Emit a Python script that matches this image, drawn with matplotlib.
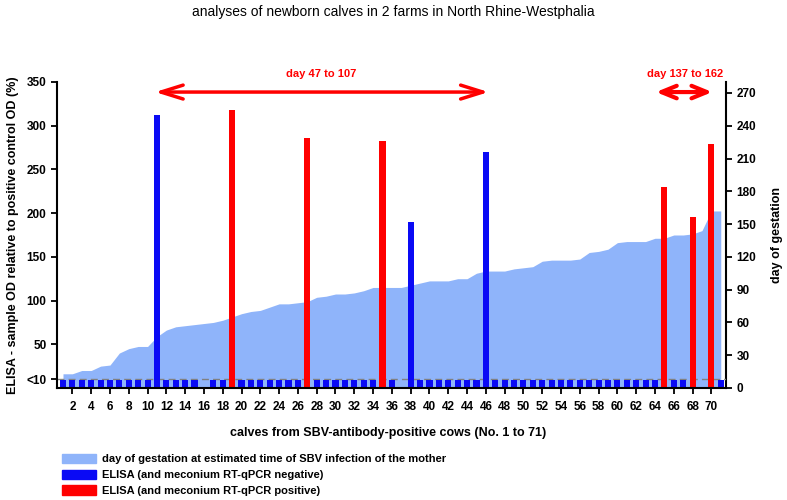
import matplotlib
matplotlib.use('Agg')
import matplotlib.pyplot as plt
from matplotlib.patches import Patch
import numpy as np

plt.rcParams['font.family'] = ['Liberation Sans', 'DejaVu Sans']
plt.rcParams['font.weight'] = 'bold'
plt.rcParams['axes.labelweight'] = 'bold'

calves = np.arange(1, 72)

# day of gestation at estimated time of SBV infection (right axis)
gestation_day = [13, 13, 16, 16, 20, 21, 32, 36, 38, 38,
                 47, 53, 56, 57, 58, 59, 60, 62, 65, 68,
                 70, 71, 74, 77, 77, 78, 79, 83, 84, 86,
                 86, 87, 89, 92, 92, 92, 92, 94, 96, 98,
                 98, 98, 100, 100, 105, 107, 107, 107, 109, 110,
                 111, 116, 117, 117, 117, 118, 124, 125, 127, 133,
                 134, 134, 134, 137, 137, 140, 140, 141, 144, 162,
                 162]

# ELISA, sample OD relative to positive control OD (%), 9 = "<10", 0 = no bar
elisa = [9, 9, 9, 9, 9, 9, 9, 9, 9, 9,
         312, 9, 9, 9, 9, 0, 9, 9, 318, 9,
         9, 9, 9, 9, 9, 9, 286, 9, 9, 9,
         9, 9, 9, 9, 282, 9, 0, 190, 9, 9,
         9, 9, 9, 9, 9, 270, 9, 9, 9, 9,
         9, 9, 9, 9, 9, 9, 9, 9, 9, 9,
         9, 9, 9, 9, 230, 9, 9, 196, 0, 279,
         9]

# calves with positive meconium RT-qPCR
pcr_positive = [19, 27, 35, 65, 68, 70]

left_ticks = [10, 50, 100, 150, 200, 250, 300, 350]
left_ticklabels = ['<10', '50', '100', '150', '200', '250', '300', '350']
right_ticks = [0, 30, 60, 90, 120, 150, 180, 210, 240, 270]

c_area = '#8fb4fa'
c_neg = '#0a0af5'
c_pos = '#ff0000'

fig = plt.figure(figsize=(7.87, 5), dpi=100)
ax = fig.add_axes([0.0724, 0.224, 0.850, 0.612])
ax2 = ax.twinx()

# area of gestation day on the right axis, drawn behind the bars
ax2.fill_between(calves, gestation_day, color=c_area, lw=0)
ax2.set_ylim(0, 280)
ax2.set_yticks(right_ticks)
ax.set_zorder(ax2.get_zorder() + 1)
ax.patch.set_visible(False)

colors = [c_pos if c in pcr_positive else c_neg for c in calves]
ax.bar(calves, elisa, width=0.65, color=colors, zorder=2)
ax.axhline(10, color='#808080', ls=(0, (5, 3)), lw=1, zorder=1.5)

ax.set_xlim(0.36, 71.55)
ax.set_ylim(0, 350)
ax.set_yticks(left_ticks)
ax.set_yticklabels(left_ticklabels)
ax.set_xticks(np.arange(2, 71, 2))

for a in (ax, ax2):
    a.spines['top'].set_visible(False)
    a.tick_params(direction='out', length=4, width=1.3, labelsize=8.5)
ax.spines['right'].set_visible(False)
ax2.spines['left'].set_visible(False)
ax2.spines['bottom'].set_visible(False)
for s in ('left', 'bottom'):
    ax.spines[s].set_linewidth(1.5)
ax2.spines['right'].set_linewidth(1.5)
ax.tick_params(axis='x', pad=5)

ax.set_ylabel('ELISA - sample OD relative to positive control OD (%)', fontsize=9)
ax.yaxis.set_label_coords(-0.057, 0.5)
ax2.set_ylabel('day of gestation', fontsize=9)
ax2.yaxis.set_label_coords(1.067, 0.5)
ax.set_xlabel('calves from SBV-antibody-positive cows (No. 1 to 71)', fontsize=9)
ax.xaxis.set_label_coords(0.495, -0.127)

# infection windows
ax.annotate('', xy=(46.3, 338.5), xytext=(10.8, 338.5), annotation_clip=False,
            arrowprops=dict(arrowstyle='<->,head_length=1.6,head_width=0.5',
                            color='red', lw=2.5, shrinkA=0, shrinkB=0))
ax.text(28.5, 359, 'day 47 to 107', color='red', ha='center', va='center',
        fontsize=8, clip_on=False)
ax.annotate('', xy=(70.1, 338.5), xytext=(64.1, 338.5), annotation_clip=False,
            arrowprops=dict(arrowstyle='<->,head_length=1.1,head_width=0.45',
                            color='red', lw=3, shrinkA=0, shrinkB=0))
ax.text(67.2, 359, 'day 137 to 162', color='red', ha='center', va='center',
        fontsize=8, clip_on=False)

fig.text(0.5, 0.976, 'analyses of newborn calves in 2 farms in North Rhine-Westphalia',
         ha='center', va='center', fontsize=10, fontweight='normal')

handles = [Patch(color=c_area), Patch(color=c_neg), Patch(color=c_pos)]
labels = ['day of gestation at estimated time of SBV infection of the mother',
          'ELISA (and meconium RT-qPCR negative)',
          'ELISA (and meconium RT-qPCR positive)']
fig.legend(handles, labels, loc='upper left', bbox_to_anchor=(0.0788, 0.092),
           frameon=False, fontsize=8, handlelength=3.06, handleheight=0.9,
           handletextpad=0.55, labelspacing=0.47, borderpad=0, borderaxespad=0)

fig.savefig('out.png', dpi=100)
